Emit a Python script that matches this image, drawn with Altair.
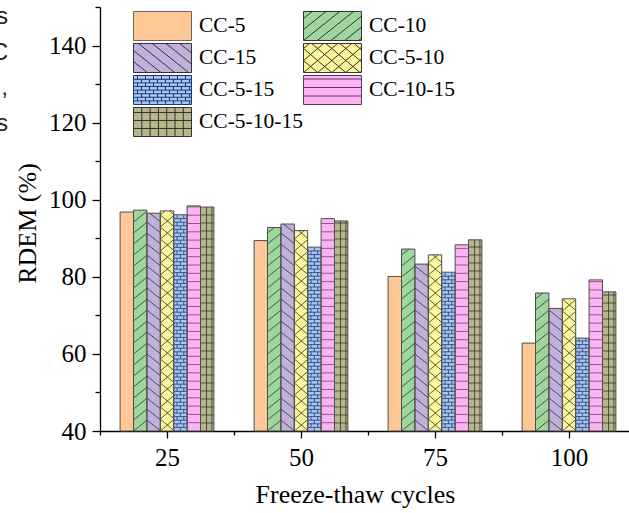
import altair as alt
import pandas as pd

# ---------------- data ----------------
cycles = [25, 50, 75, 100]
series = ["CC-5", "CC-10", "CC-15", "CC-5-10", "CC-5-15", "CC-10-15", "CC-5-10-15"]
cc_5 = [96.8, 89.4, 80.1, 62.8]
cc_10 = [97.3, 92.8, 87.2, 75.8]
cc_15 = [96.5, 93.7, 83.3, 71.8]
cc_5_10 = [97.1, 92.0, 85.7, 74.3]
cc_5_15 = [96.1, 87.7, 81.2, 64.1]
cc_10_15 = [98.4, 95.1, 88.3, 79.2]
cc_5_10_15 = [98.1, 94.5, 89.6, 76.1]
all_values = [cc_5, cc_10, cc_15, cc_5_10, cc_5_15, cc_10_15, cc_5_10_15]

fills = ["#FDC896", "#9ED69E", "#C0B0DA", "#FCF69C", "#A9C6EE", "#FDB2F3", "#B6B68A"]
inks = ["#666666", "#333333", "#333333", "#333333", "#1B3A78", "#5A3A5A", "#333333"]
patterns = ["none", "fwd", "back", "cross", "brick", "horiz", "grid"]

y_major = [40, 60, 80, 100, 120, 140]
y_minor = [50, 70, 90, 110, 130, 150]
x_minor = [12.5, 37.5, 62.5, 87.5]
side_text = "s\nC\n,\ns"

# ---------------- layout ----------------
SERIF = "Liberation Serif"
W_PLOT, H_PLOT = 529, 424
PAD = {"left": 100, "top": 7, "right": 0, "bottom": 82}
X_MIN, PX_X = 12.5, 5.36
X_MAX = X_MIN + W_PLOT / PX_X
Y_MIN, Y_MAX = 40, 150
PX_Y = H_PLOT / (Y_MAX - Y_MIN)
BAR_W = 2.5


# ---------------- hatch helpers (pixel space, v up) ----------------
def clip(u0, v0, u1, v1, W, H):
    du, dv = u1 - u0, v1 - v0
    t0, t1 = 0.0, 1.0
    for p, q in ((-du, u0), (du, W - u0), (-dv, v0), (dv, H - v0)):
        if p == 0:
            if q < 0:
                return None
        else:
            r = q / p
            if p < 0:
                if r > t1:
                    return None
                t0 = max(t0, r)
            else:
                if r < t0:
                    return None
                t1 = min(t1, r)
    if t1 - t0 < 1e-6:
        return None
    return (u0 + t0 * du, v0 + t0 * dv, u0 + t1 * du, v0 + t1 * dv)


def diag(W, H, slope, sp, sign):
    out = []
    k = int(-(slope * W) // sp) - 1
    while k * sp < H + slope * W + sp:
        c = k * sp
        if sign > 0:
            s = clip(0, c, W, c + slope * W, W, H)
        else:
            s = clip(0, c, W, c - slope * W, W, H)
        if s:
            out.append(s)
        k += 1
    return out


def horiz(W, H, sp):
    out = []
    k = 1
    while k * sp < H - 0.5:
        out.append((0, k * sp, W, k * sp))
        k += 1
    return out


def verts(W, H, us):
    return [(u, 0, u, H) for u in us if 0 < u < W]


def brick(W, H, rh, L):
    out = horiz(W, H, rh)
    k = 0
    while k * rh < H:
        v0, v1 = k * rh, min((k + 1) * rh, H)
        m = 0
        while True:
            u = (m + 0.5 * (k % 2)) * L
            if u >= W:
                break
            if u > 0:
                out.append((u, v0, u, v1))
            m += 1
        k += 1
    return out


def pattern_segments(kind, W, H, legend=False):
    if kind == "fwd":
        return diag(W, H, 0.8, 11, 1)
    if kind == "back":
        return diag(W, H, 0.8, 11, -1)
    if kind == "cross":
        return diag(W, H, 0.85, 12, 1) + diag(W, H, 0.85, 12, -1)
    if kind == "brick":
        return brick(W, H, 3.6, 8 if legend else W / 2)
    if kind == "horiz":
        return horiz(W, H, 8.5 if legend else 8.3)
    if kind == "grid":
        if legend:
            us = [8.3 * i for i in range(1, 8)]
        else:
            us = [0.45 * W, 0.85 * W]
        return horiz(W, H, 8.0) + verts(W, H, us)
    return []


# ---------------- tables ----------------
bar_rows, hatch_rows = [], []
for i, (name, vals) in enumerate(zip(series, all_values)):
    for c, v in zip(cycles, vals):
        x0 = c + (i - 3.5) * BAR_W
        bar_rows.append({"series": name, "cycle": c, "value": v, "x0": x0, "x1": x0 + BAR_W})
        Wp, Hp = BAR_W * PX_X, (v - Y_MIN) * PX_Y
        for (u0, v0, u1, v1) in pattern_segments(patterns[i], Wp, Hp):
            hatch_rows.append({
                "hx0": x0 + u0 / PX_X, "hy0": Y_MIN + v0 / PX_Y,
                "hx1": x0 + u1 / PX_X, "hy1": Y_MIN + v1 / PX_Y,
                "ink": "navy" if patterns[i] == "brick" else ("pink" if patterns[i] == "horiz" else "dark"),
            })
bars = pd.DataFrame(bar_rows)
hatch = pd.DataFrame(hatch_rows)

# legend swatch paths (58 x 29 px rectangles with the same hatching)
SW, SH = 58, 29
sc = SW / 2
paths = []
for kind in patterns:
    parts = ["M-1,-0.5H1V0.5H-1Z"]
    for (u0, v0, u1, v1) in pattern_segments(kind, SW, SH, legend=True):
        parts.append(f"M{u0/sc-1:.3f},{(SH/2-v0)/sc:.3f}L{u1/sc-1:.3f},{(SH/2-v1)/sc:.3f}")
    paths.append("".join(parts))

# ---------------- scales / axes ----------------
xs = alt.Scale(domain=[X_MIN, X_MAX], nice=False, zero=False)
ys = alt.Scale(domain=[Y_MIN, Y_MAX], nice=False, zero=False)
cs = alt.Scale(domain=series, range=fills)

x_major_axis = alt.Axis(
    orient="bottom", values=cycles, tickSize=7, tickWidth=1.3, tickColor="black",
    domainColor="black", domainWidth=1.3, grid=False,
    labelFont=SERIF, labelFontSize=25, labelColor="black", labelBaseline="alphabetic",
    labelPadding=27, labelFlush=False, labelOverlap=False,
    title="Freeze-thaw cycles", titleFont=SERIF, titleFontSize=26, titleFontWeight="normal",
    titleColor="black", titleX=255, titleY=71, titleBaseline="alphabetic", titleAlign="center",
)
x_minor_axis = alt.Axis(
    orient="bottom", values=x_minor, tickSize=4, tickWidth=1.3, tickColor="black",
    domain=False, labels=False, grid=False, title=None,
)
y_major_axis = alt.Axis(
    orient="left", values=y_major, tickSize=8, tickWidth=1.3, tickColor="black",
    domainColor="black", domainWidth=1.3, grid=False,
    labelFont=SERIF, labelFontSize=25, labelColor="black", labelPadding=6,
    title="RDEM (%)", titleFont=SERIF, titleFontSize=26, titleFontWeight="normal",
    titleColor="black", titleAngle=270, titleX=-60, titleY=216,
    titleBaseline="bottom", titleAlign="center",
)
y_minor_axis = alt.Axis(
    orient="left", values=y_minor, tickSize=5, tickWidth=1.3, tickColor="black",
    domain=False, labels=False, grid=False, title=None,
)

legend = alt.Legend(
    orient="none", legendX=33, legendY=4, columns=2, direction="horizontal", title=None,
    symbolSize=SW * SW, symbolStrokeWidth=1, symbolOpacity=1, symbolOffset=0,
    labelFont=SERIF, labelFontSize=21.5, labelColor="black", labelOffset=7,
    clipHeight=30, rowPadding=2, columnPadding=0, padding=0,
)

# ---------------- layers ----------------
bar_fill = alt.Chart(bars).mark_rect(strokeWidth=0).encode(
    x=alt.X("x0:Q", scale=xs, axis=x_major_axis),
    x2="x1:Q",
    y=alt.Y("value:Q", scale=ys, axis=y_major_axis),
    y2=alt.datum(Y_MIN),
    color=alt.Color("series:N", scale=cs, legend=legend),
)

def hatch_layer(ink, color):
    return alt.Chart(hatch).transform_filter(alt.datum.ink == ink).mark_rule(
        color=color, strokeWidth=0.8
    ).encode(
        x=alt.X("hx0:Q", scale=xs, axis=None),
        x2="hx1:Q",
        y=alt.Y("hy0:Q", scale=ys, axis=None),
        y2="hy1:Q",
    )

bar_outline = alt.Chart(bars).mark_rect(filled=False, stroke="#4d4d4d", strokeWidth=1).encode(
    x=alt.X("x0:Q", scale=xs, axis=None),
    x2="x1:Q",
    y=alt.Y("value:Q", scale=ys, axis=None),
    y2=alt.datum(Y_MIN),
)

legend_layer = alt.Chart(bars).mark_point(filled=True, opacity=0, size=1, strokeWidth=1).encode(
    x=alt.X("x0:Q", scale=xs, axis=x_minor_axis),
    y=alt.Y("value:Q", scale=ys, axis=y_minor_axis),
    color=alt.Color("series:N", scale=cs, legend=legend),
    shape=alt.Shape("series:N", scale=alt.Scale(domain=series, range=paths), legend=legend),
    stroke=alt.Stroke("series:N", scale=alt.Scale(domain=series, range=inks), legend=legend),
)

side = alt.Chart(pd.DataFrame({"t": [side_text]})).mark_text(
    font="Liberation Sans", fontSize=23, color="#222222", align="right",
    baseline="alphabetic", lineBreak="\n", lineHeight=35.7,
).encode(x=alt.value(-92), y=alt.value(17), text="t:N")

chart = alt.layer(
    bar_fill,
    hatch_layer("dark", "#333333"),
    hatch_layer("pink", "#6a4a6a"),
    hatch_layer("navy", "#1B3A78"),
    bar_outline,
    legend_layer,
    side,
).resolve_axis(x="independent", y="independent").properties(
    width=W_PLOT, height=H_PLOT, padding=PAD,
    autosize=alt.AutoSizeParams(type="none"),
    background="white",
).configure_view(stroke=None)

chart.save("out.html", embed_options={"renderer": "svg", "actions": False})
